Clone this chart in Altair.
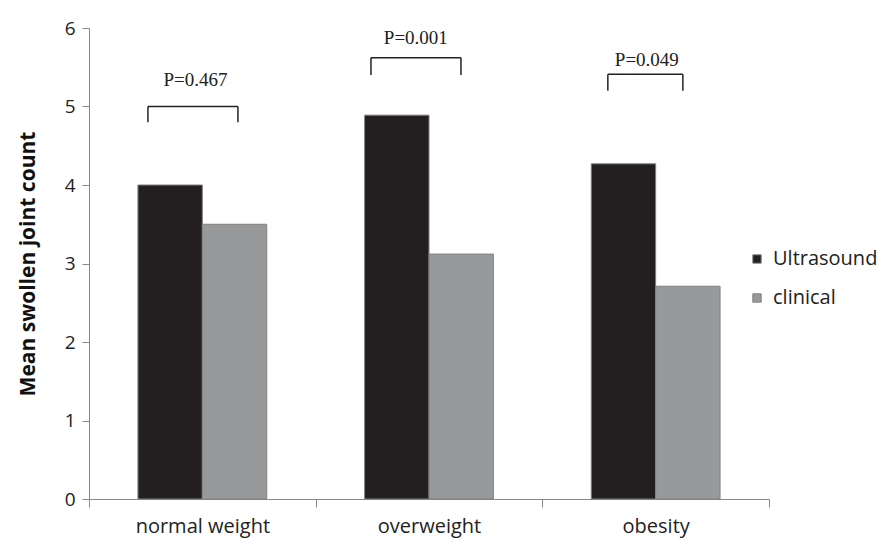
import altair as alt
import pandas as pd

categories = ["normal weight", "overweight", "obesity"]
series = ["Ultrasound", "clinical"]
ultrasound = [4.0, 4.89, 4.27]
clinical = [3.5, 3.12, 2.71]

p_labels = ["P=0.467", "P=0.001", "P=0.049"]
br_left = [0.26, 1.244, 2.289]
br_right = [0.657, 1.641, 2.62]
br_top = [5.0, 5.62, 5.41]
br_bottom = [4.80, 5.40, 5.20]
txt_x = [0.47, 1.442, 2.461]
txt_y = [5.34, 5.87, 5.59]

rows = []
for i, c in enumerate(categories):
    rows.append({"group": c, "series": series[0], "value": ultrasound[i]})
    rows.append({"group": c, "series": series[1], "value": clinical[i]})
bars_df = pd.DataFrame(rows)

br_df = pd.DataFrame({"l": br_left, "r": br_right, "top": br_top, "bot": br_bottom,
                      "tx": txt_x, "ty": txt_y, "label": p_labels})

yscale = alt.Scale(domain=[0, 6], nice=False)
font = "Open Sans"

bars = alt.Chart(bars_df).mark_bar(stroke="#808080", strokeWidth=1).encode(
    x=alt.X("group:N", sort=categories, title=None,
            scale=alt.Scale(paddingInner=0, paddingOuter=0),
            axis=alt.Axis(labelAngle=0, tickBand="extent", tickSize=8, labelPadding=9,
                          labelFontSize=20, labelFont=font, labelColor="#222",
                          domainColor="#888", tickColor="#888")),
    xOffset=alt.XOffset("series:N", sort=series,
                        scale=alt.Scale(paddingInner=0, paddingOuter=0.76)),
    y=alt.Y("value:Q", scale=yscale, title="Mean swollen joint count",
            axis=alt.Axis(values=[0, 1, 2, 3, 4, 5, 6], format="d", grid=False, tickSize=7,
                          labelPadding=7, labelFontSize=19, labelFont=font, labelColor="#222",
                          titleFont=font, titleFontSize=21, titleFontWeight="bold",
                          titleColor="#111", titlePadding=26,
                          domainColor="#888", tickColor="#888")),
    color=alt.Color("series:N", sort=series,
                    scale=alt.Scale(domain=series, range=["#231f20", "#98999b"]),
                    legend=alt.Legend(title=None, orient="none", legendX=658, legendY=221,
                                      symbolType="square", symbolSize=70,
                                      symbolStrokeColor="#808080", symbolStrokeWidth=1,
                                      labelFont=font, labelFontSize=20, labelColor="#222",
                                      rowPadding=19, labelOffset=6, labelLimit=200)),
)

xq = alt.Scale(domain=[0, 3], nice=False, zero=False)

top_line = alt.Chart(br_df).mark_rule(color="#222", strokeWidth=1.5).encode(
    x=alt.X("l:Q", scale=xq, axis=None), x2="r:Q",
    y=alt.Y("top:Q", scale=yscale))
left_leg = alt.Chart(br_df).mark_rule(color="#222", strokeWidth=1.5).encode(
    x=alt.X("l:Q", scale=xq, axis=None),
    y=alt.Y("top:Q", scale=yscale), y2="bot:Q")
right_leg = alt.Chart(br_df).mark_rule(color="#222", strokeWidth=1.5).encode(
    x=alt.X("r:Q", scale=xq, axis=None),
    y=alt.Y("top:Q", scale=yscale), y2="bot:Q")
texts = alt.Chart(br_df).mark_text(font="Liberation Serif", fontSize=19, color="#222").encode(
    x=alt.X("tx:Q", scale=xq, axis=None),
    y=alt.Y("ty:Q", scale=yscale),
    text="label:N")

overlay = alt.layer(top_line, left_leg, right_leg, texts)

chart = alt.layer(bars, overlay).resolve_scale(x="independent").properties(
    width=680, height=471,
    autosize=alt.AutoSizeParams(type="none"),
    padding={"left": 81, "top": 20, "right": 112, "bottom": 40},
).configure_view(stroke=None)

chart.save("out.html", embed_options={"renderer": "svg", "actions": False})
